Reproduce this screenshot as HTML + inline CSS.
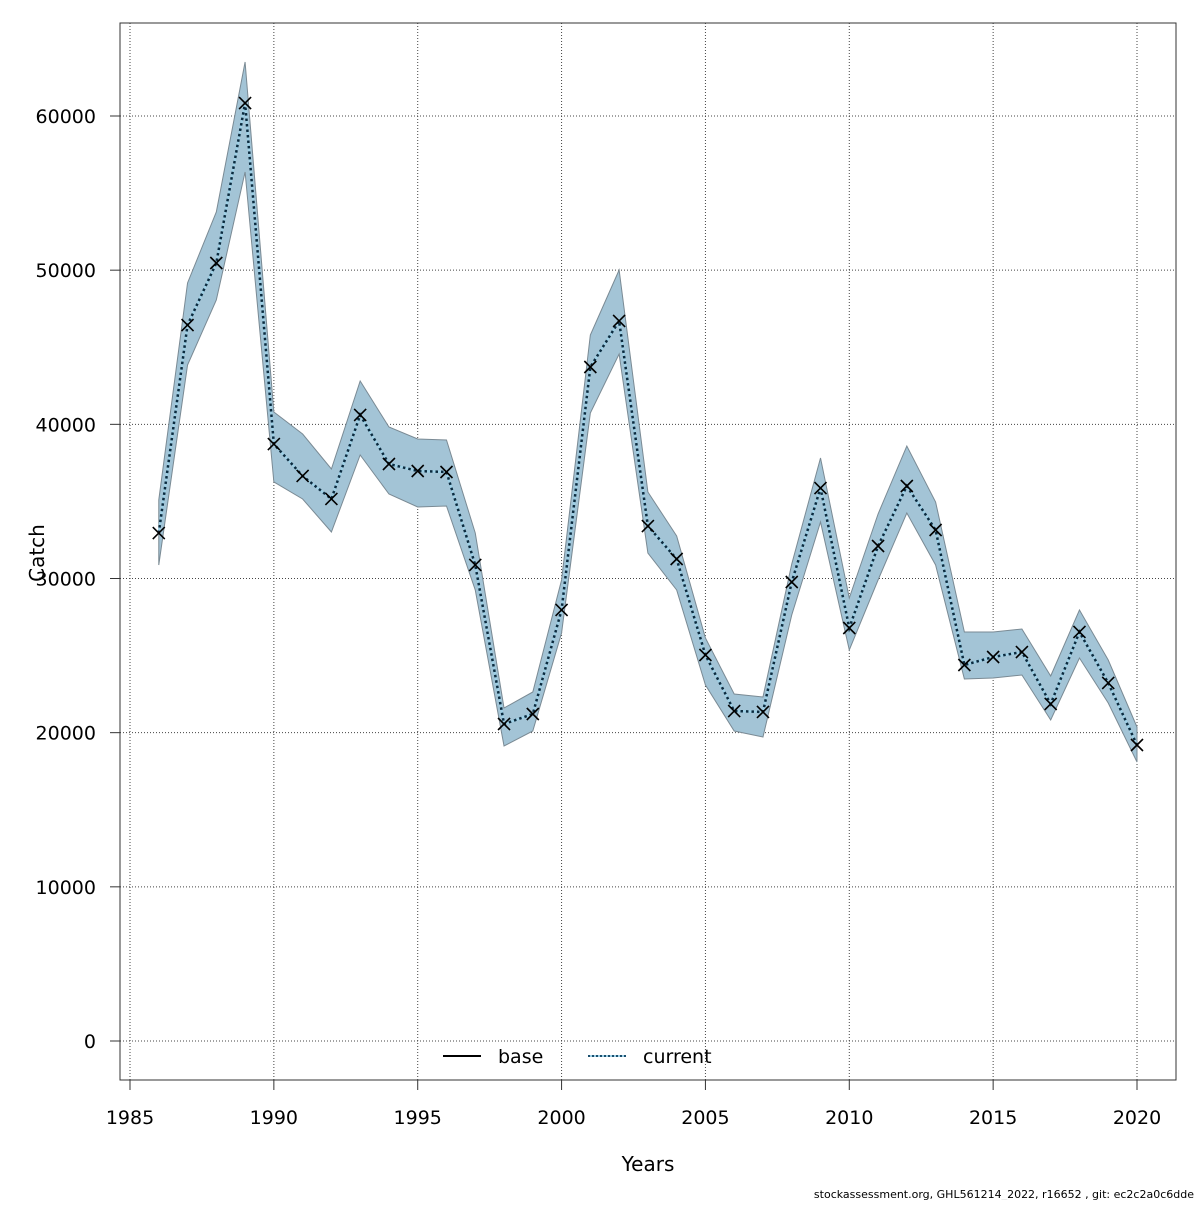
<!DOCTYPE html>
<html><head><meta charset="utf-8"><style>
body{margin:0;background:#fff;}
svg text{font-family:"DejaVu Sans","Liberation Sans",sans-serif;}
</style></head><body>
<svg id="chart" width="1200" height="1200" viewBox="0 0 1200 1200" xmlns="http://www.w3.org/2000/svg">
<g id="grid"></g>
<g id="band"></g>
<g id="lines"></g>
<g id="marks"></g>
<rect x="120" y="23" width="1056" height="1057" fill="none" stroke="#333" stroke-width="1"/>
<g id="axes"></g>
<text x="44" y="553" font-size="20" text-anchor="middle" transform="rotate(-90 44 553)">Catch</text>
<text x="648" y="1171" font-size="20" text-anchor="middle">Years</text>
<text x="1194" y="1198" font-size="11" text-anchor="end">stockassessment.org, GHL561214_2022, r16652 , git: ec2c2a0c6dde</text>
<g>
<g>
<line x1="443" y1="1056" x2="481" y2="1056" stroke="#000" stroke-width="2"/>
<text x="498" y="1063" font-size="19">base</text></g>
<g>
<line x1="588" y1="1056" x2="626" y2="1056" stroke="#9fd0e6" stroke-width="2"/>
<line x1="588" y1="1056" x2="626" y2="1056" stroke="#1a4f6e" stroke-width="2" stroke-dasharray="2 2"/>
<text x="643" y="1063" font-size="19">current</text></g>
</g>
</svg>
<script>
const years=[1986,1987,1988,1989,1990,1991,1992,1993,1994,1995,1996,1997,1998,1999,2000,2001,2002,2003,2004,2005,2006,2007,2008,2009,2010,2011,2012,2013,2014,2015,2016,2017,2018,2019,2020];
const catchValues=[32951,46443,50465,60843,38724,36649,35157,40606,37427,36973,36908,30876,20562,21211,27957,43719,46703,33405,31265,25038,21405,21341,29773,35870,26789,32108,36000,33146,24389,24908,25232,21860,26530,23222,19200];
const upperValues=[35092,49168,53773,63503,40800,39373,37103,42811,39827,39049,38984,32951,21600,22638,29903,45795,50011,35611,32757,26141,22508,22314,30941,37816,28735,34184,38595,34962,26530,26530,26724,23676,27957,24714,20368];
const lowerValues=[30876,43849,48065,56368,36260,35157,33016,38011,35481,34638,34703,29254,19135,20108,26465,40735,44562,31654,29254,23092,20108,19719,27632,33665,25362,29903,34249,30876,23481,23546,23741,20822,24843,21924,18097];
const xTicks=[1985,1990,1995,2000,2005,2010,2015,2020];
const yTicks=[0,10000,20000,30000,40000,50000,60000];
const NS="http://www.w3.org/2000/svg";
const xs=y=>130+(y-1985)*(1137-130)/35;
const ys=v=>1041-v*(1041-116)/60000;
function mk(t,a,p){const e=document.createElementNS(NS,t);for(const k in a)e.setAttribute(k,a[k]);p.appendChild(e);return e;}
const grid=document.getElementById('grid'),axes=document.getElementById('axes');
xTicks.forEach(t=>{
 const l=mk('line',{x1:xs(t),x2:xs(t),y1:23,y2:1080,stroke:'#444','stroke-width':1,'stroke-dasharray':'1 2'},grid);
 
 
 const k=mk('line',{x1:xs(t),x2:xs(t),y1:1080,y2:1090,stroke:'#333'},axes);
 
 
 const tx=mk('text',{x:xs(t),y:1124,'font-size':19,'text-anchor':'middle'},axes);tx.textContent=t;
 
 
});
yTicks.forEach(t=>{
 const l=mk('line',{x1:120,x2:1176,y1:ys(t),y2:ys(t),stroke:'#444','stroke-width':1,'stroke-dasharray':'1 2'},grid);
 
 
 const k=mk('line',{x1:110,x2:120,y1:ys(t),y2:ys(t),stroke:'#333'},axes);
 
 
 const tx=mk('text',{x:96,y:ys(t)+7,'font-size':19,'text-anchor':'end'},axes);tx.textContent=t;
 
 
});
let d='';
years.forEach((y,i)=>{d+=(i?'L':'M')+xs(y)+','+ys(upperValues[i]);});
for(let i=years.length-1;i>=0;i--)d+='L'+xs(years[i])+','+ys(lowerValues[i]);
const b=mk('path',{d:d+'Z',fill:'#a3c4d6',stroke:'#7a8a94','stroke-width':1},document.getElementById('band'));


const pts=years.map((y,i)=>xs(y)+','+ys(catchValues[i])).join(' ');
const lg=document.getElementById('lines');
const l1=mk('polyline',{points:pts,fill:'none',stroke:'#9fd0e6','stroke-width':2.5},lg);


const l2=mk('polyline',{points:pts,fill:'none',stroke:'#0b2a3e','stroke-width':2.5,'stroke-dasharray':'2.5 3'},lg);


const mg=document.getElementById('marks');
years.forEach((y,i)=>{
 const cx=xs(y),cy=ys(catchValues[i]),s=6;
 const p=mk('path',{d:`M${cx-s},${cy-s}L${cx+s},${cy+s}M${cx-s},${cy+s}L${cx+s},${cy-s}`,stroke:'#000','stroke-width':1.6,fill:'none'},mg);
 
 
});
</script>
</body></html>
